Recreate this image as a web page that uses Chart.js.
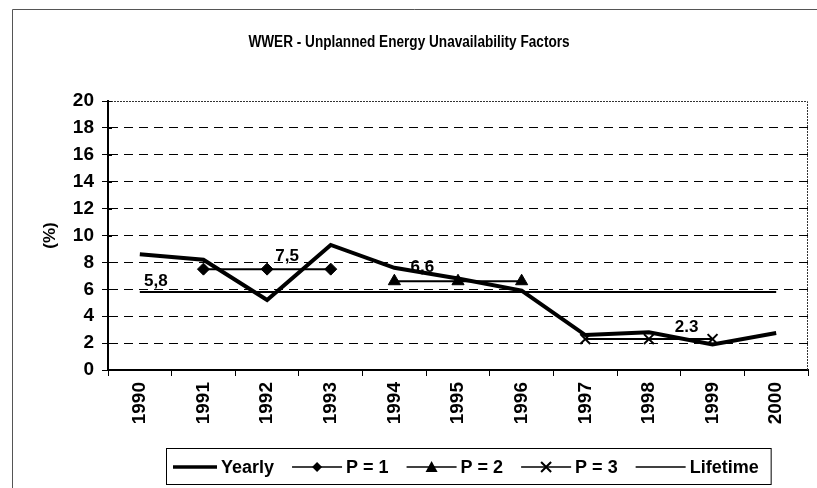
<!DOCTYPE html>
<html><head><meta charset="utf-8">
<script src="https://cdn.jsdelivr.net/npm/chart.js@4.4.1/dist/chart.umd.min.js"></script>
<style>html,body{margin:0;padding:0;background:#fff;}canvas{display:block;}</style>
</head><body>
<canvas id="c" width="817" height="488"></canvas>
<script>
const years = ['1990','1991','1992','1993','1994','1995','1996','1997','1998','1999','2000'];
const yearly = [8.6, 8.2, 5.2, 9.3, 7.6, 6.8, 5.9, 2.6, 2.8, 1.9, 2.75];
const p1 = [null, 7.5, 7.5, 7.5, null, null, null, null, null, null, null];
const p2 = [null, null, null, null, 6.6, 6.6, 6.6, null, null, null, null];
const p3 = [null, null, null, null, null, null, null, 2.3, 2.3, 2.3, null];
const lifetime = [5.8, 5.8, 5.8, 5.8, 5.8, 5.8, 5.8, 5.8, 5.8, 5.8, 5.8];
const yTicks = [0, 2, 4, 6, 8, 10, 12, 14, 16, 18, 20];
const valueLabels = [
  {text: '5,8', index: 0, value: 5.8, dx: 16, dy: -11},
  {text: '7,5', index: 2, value: 7.5, dx: 20, dy: -13},
  {text: '6,6', index: 4, value: 6.6, dx: 28, dy: -14},
  {text: '2.3', index: 9, value: 2.3, dx: -26, dy: -12}
];
const legendItems = ['Yearly', 'P = 1', 'P = 2', 'P = 3', 'Lifetime'];

const FONT = "'Liberation Sans', Arial, sans-serif";

const decor = {
  id: 'decor',
  beforeDraw(chart) {
    const ctx = chart.ctx;
    ctx.save();
    ctx.fillStyle = '#fff';
    ctx.fillRect(0, 0, chart.width, chart.height);
    ctx.strokeStyle = '#555';
    ctx.lineWidth = 1;
    ctx.beginPath();
    ctx.moveTo(12.5, 488); ctx.lineTo(12.5, 9.5); ctx.lineTo(817, 9.5);
    ctx.stroke();
    ctx.restore();
  },
  afterDraw(chart) {
    const ctx = chart.ctx;
    const x = chart.scales.x, y = chart.scales.y;
    const a = chart.chartArea;
    ctx.save();
    ctx.strokeStyle = '#333';
    ctx.lineWidth = 1;
    ctx.setLineDash([2, 1]);
    ctx.beginPath();
    ctx.moveTo(a.left, a.top + 0.5); ctx.lineTo(a.right - 0.5, a.top + 0.5); ctx.lineTo(a.right - 0.5, a.bottom);
    ctx.stroke();
    ctx.setLineDash([]);
    ctx.strokeStyle = '#000';
    ctx.beginPath();
    y.ticks.forEach(t => {
      const py = Math.round(y.getPixelForValue(t.value)) + 0.5;
      ctx.moveTo(a.left, py); ctx.lineTo(a.left + 4, py);
    });
    ctx.stroke();
    ctx.fillStyle = '#000';
    ctx.save();
    ctx.translate(409, 43);
    ctx.scale(0.85, 1);
    ctx.font = 'bold 16px ' + FONT;
    ctx.textAlign = 'center';
    ctx.textBaseline = 'middle';
    ctx.fillText('WWER - Unplanned Energy Unavailability Factors', 0, 0);
    ctx.restore();
    ctx.font = 'bold 17px ' + FONT;
    ctx.textAlign = 'center';
    ctx.textBaseline = 'middle';
    valueLabels.forEach(l => {
      ctx.fillText(l.text, x.getPixelForValue(l.index) + l.dx, y.getPixelForValue(l.value) + l.dy);
    });
    const bx = 166, by = 448, bh = 36;
    ctx.font = 'bold 18px ' + FONT;
    ctx.textAlign = 'left';
    const cy = by + bh / 2 + 1;
    let cx = bx + 7;
    const ds = chart.data.datasets;
    legendItems.forEach((name, i) => {
      const d = ds[i];
      const sw = i === 0 ? 44 : 50;
      ctx.strokeStyle = '#000';
      ctx.lineWidth = i === 0 ? 3.5 : 1.5;
      ctx.beginPath(); ctx.moveTo(cx, cy); ctx.lineTo(cx + sw, cy); ctx.stroke();
      const mx = cx + sw / 2;
      ctx.fillStyle = '#000';
      if (d.pointStyle === 'rectRot') {
        ctx.beginPath(); ctx.moveTo(mx, cy - 5); ctx.lineTo(mx + 5, cy); ctx.lineTo(mx, cy + 5); ctx.lineTo(mx - 5, cy); ctx.closePath(); ctx.fill();
      } else if (d.pointStyle === 'triangle') {
        ctx.beginPath(); ctx.moveTo(mx, cy - 6); ctx.lineTo(mx + 6, cy + 5); ctx.lineTo(mx - 6, cy + 5); ctx.closePath(); ctx.fill();
      } else if (d.pointStyle === 'crossRot') {
        ctx.lineWidth = 2;
        ctx.beginPath(); ctx.moveTo(mx - 5, cy - 5); ctx.lineTo(mx + 5, cy + 5); ctx.moveTo(mx + 5, cy - 5); ctx.lineTo(mx - 5, cy + 5); ctx.stroke();
      }
      cx += sw + 4;
      ctx.fillStyle = '#000';
      ctx.fillText(name, cx, cy + 1);
      cx += ctx.measureText(name).width + 18;
    });
    const bw = cx - 6 - bx;
    ctx.strokeStyle = '#000';
    ctx.lineWidth = 1;
    ctx.strokeRect(bx + 0.5, by + 0.5, bw, bh);
    ctx.restore();
  }
};

new Chart(document.getElementById('c'), {
  type: 'line',
  data: {
    labels: years,
    datasets: [
      {label: 'Yearly', data: yearly, borderColor: '#000', borderWidth: 4, pointRadius: 0, tension: 0, order: 1},
      {label: 'P = 1', data: p1, borderColor: '#000', backgroundColor: '#000', borderWidth: 2, pointStyle: 'rectRot', pointRadius: 6, pointBorderWidth: 1, order: 2},
      {label: 'P = 2', data: p2, borderColor: '#000', backgroundColor: '#000', borderWidth: 2, pointStyle: 'triangle', pointRadius: 7, pointBorderWidth: 1, order: 3},
      {label: 'P = 3', data: p3, borderColor: '#000', backgroundColor: '#000', borderWidth: 2, pointStyle: 'crossRot', pointRadius: 7, pointBorderWidth: 2, order: 4},
      {label: 'Lifetime', data: lifetime, borderColor: '#000', borderWidth: 2, pointRadius: 0, order: 5}
    ]
  },
  options: {
    responsive: false,
    animation: false,
    spanGaps: false,
    layout: {padding: {left: 40, top: 101, right: 2, bottom: 60}},
    plugins: {legend: {display: false}, title: {display: false}, tooltip: {enabled: false}},
    scales: {
      x: {
        offset: true,
        grid: {display: true, offset: true, drawOnChartArea: false, drawTicks: true, tickLength: 6, color: '#000', lineWidth: 1},
        border: {display: true, color: '#000', width: 2},
        ticks: {color: '#000', font: {family: FONT, size: 19, weight: 'bold'}, maxRotation: 90, minRotation: 90, padding: 6},
        afterFit(s) { s.height = 58; }
      },
      y: {
        min: 0, max: 20,
        afterBuildTicks(s) { s.ticks = yTicks.map(v => ({value: v})); },
        grid: {color: ctx => (ctx.tick && ctx.tick.value === 20) ? 'rgba(0,0,0,0)' : '#000', lineWidth: 1, tickLength: 6, drawTicks: true, tickColor: '#000'},
        border: {display: true, color: '#000', width: 2, dash: [9, 6]},
        ticks: {color: '#000', font: {family: FONT, size: 19, weight: 'bold'}, padding: 8},
        title: {display: true, text: '(%)', color: '#000', font: {family: FONT, size: 17, weight: 'bold'}, padding: {top: 0, bottom: 0}},
        afterFit(s) { s.width = 68; }
      }
    }
  },
  plugins: [decor]
});
</script>
</body></html>
